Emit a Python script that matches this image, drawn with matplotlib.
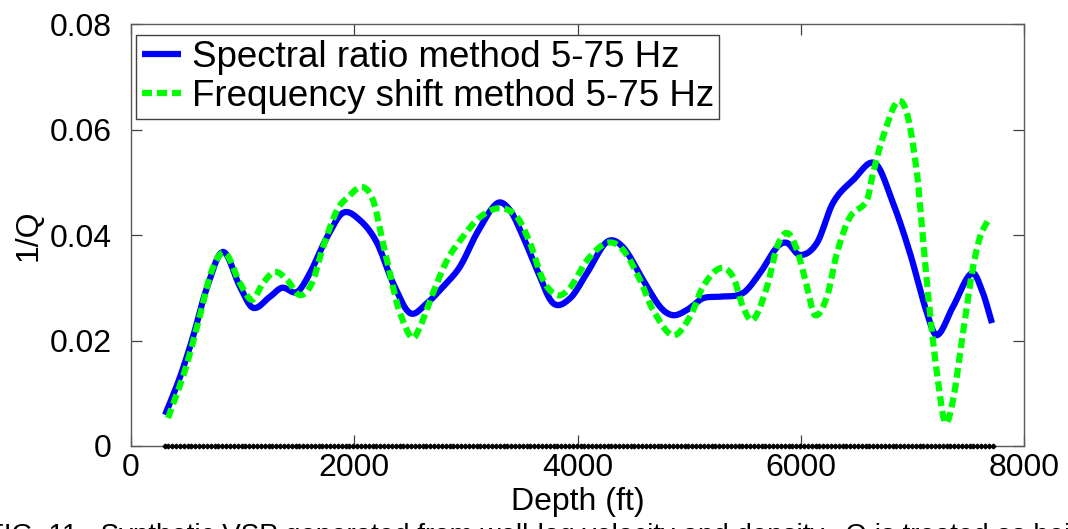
import matplotlib
matplotlib.use("Agg")
import matplotlib.pyplot as plt
import numpy as np

plt.rcParams['font.family'] = ['Liberation Sans', 'DejaVu Sans']

# ================= DATA =================
# Spectral ratio method (blue, solid)
sr_depth = [305, 439, 555, 681, 824, 976, 1093, 1245, 1353, 1487, 1603, 1756,
            1899, 2051, 2204, 2347, 2499, 2652, 2795, 2947, 3100, 3279, 3395,
            3512, 3637, 3780, 3933, 4085, 4264, 4407, 4587, 4739, 4855, 4981,
            5124, 5276, 5482, 5635, 5787, 5877, 5993, 6145, 6289, 6468, 6665,
            6826, 6978, 7131, 7220, 7364, 7534, 7632, 7713]
sr_q = [0.0059, 0.0131, 0.0207, 0.0301, 0.0368, 0.0302, 0.0262, 0.0283, 0.0300,
        0.0292, 0.0328, 0.0396, 0.0442, 0.0428, 0.0385, 0.0309, 0.0252, 0.0271,
        0.0302, 0.0340, 0.0404, 0.0460, 0.0447, 0.0397, 0.0334, 0.0271, 0.0280,
        0.0328, 0.0387, 0.0377, 0.0315, 0.0264, 0.0248, 0.0258, 0.0280, 0.0283,
        0.0290, 0.0328, 0.0377, 0.0385, 0.0362, 0.0385, 0.0461, 0.0504, 0.0536,
        0.0461, 0.0366, 0.0252, 0.0210, 0.0264, 0.0328, 0.0290, 0.0233]

# Frequency shift method (green, dashed)
fs_depth = [331, 484, 600, 726, 842, 976, 1084, 1182, 1290, 1397, 1514, 1621,
            1720, 1845, 1935, 2069, 2168, 2257, 2347, 2410, 2517, 2589, 2705,
            2831, 2974, 3127, 3306, 3458, 3574, 3691, 3816, 3933, 4085, 4264,
            4407, 4560, 4676, 4855, 5008, 5124, 5276, 5393, 5482, 5572, 5698,
            5787, 5877, 5966, 6056, 6127, 6235, 6324, 6441, 6593, 6647, 6737,
            6862, 6951, 7041, 7095, 7158, 7220, 7292, 7364, 7453, 7534, 7606,
            7695]
fs_q = [0.0053, 0.0144, 0.0233, 0.0334, 0.0366, 0.0309, 0.0277, 0.0309, 0.0330,
        0.0315, 0.0286, 0.0309, 0.0377, 0.0447, 0.0470, 0.0491, 0.0466, 0.0385,
        0.0301, 0.0252, 0.0205, 0.0226, 0.0290, 0.0352, 0.0397, 0.0434, 0.0451,
        0.0434, 0.0385, 0.0315, 0.0286, 0.0300, 0.0352, 0.0385, 0.0372, 0.0315,
        0.0258, 0.0210, 0.0245, 0.0302, 0.0337, 0.0321, 0.0264, 0.0239, 0.0302,
        0.0377, 0.0404, 0.0372, 0.0302, 0.0248, 0.0283, 0.0366, 0.0434, 0.0466,
        0.0517, 0.0586, 0.0652, 0.0631, 0.0517, 0.0391, 0.0252, 0.0138, 0.0045,
        0.0087, 0.0214, 0.0328, 0.0396, 0.0434]

# receiver depths shown as black dots on the zero line
rcv_first, rcv_last, rcv_count = 300, 7720, 216

labels = ["Spectral ratio method 5-75 Hz", "Frequency shift method 5-75 Hz"]
caption = ("FIG. 11.  Synthetic VSP generated from well-log velocity and density."
           "  Q is treated as being constant with depth")

# ================= PLOT =================
fig = plt.figure(figsize=(10.68, 5.29), dpi=100)
ax = fig.add_axes([0.1227, 0.1569, 0.8361, 0.7977])

def smooth(xs, ys, n=600):
    xs = np.asarray(xs, float)
    ys = np.asarray(ys, float)
    t = np.linspace(xs[0], xs[-1], n)
    # cubic Hermite through the read points
    out = np.empty_like(t)
    for k, tv in enumerate(t):
        i = min(np.searchsorted(xs, tv, side="right") - 1, len(xs) - 2)
        i = max(i, 0)
        x0, x1 = xs[i], xs[i + 1]
        y0, y1 = ys[i], ys[i + 1]
        m0 = (ys[i + 1] - ys[i - 1]) / (xs[i + 1] - xs[i - 1]) if i > 0 else (y1 - y0) / (x1 - x0)
        m1 = (ys[i + 2] - ys[i]) / (xs[i + 2] - xs[i]) if i + 2 < len(xs) else (y1 - y0) / (x1 - x0)
        h = x1 - x0
        s = (tv - x0) / h
        h00 = 2 * s**3 - 3 * s**2 + 1
        h10 = s**3 - 2 * s**2 + s
        h01 = -2 * s**3 + 3 * s**2
        h11 = s**3 - s**2
        out[k] = h00 * y0 + h10 * h * m0 + h01 * y1 + h11 * h * m1
    return t, out

xb, yb = smooth(sr_depth, sr_q)
xg, yg = smooth(fs_depth, fs_q)

ax.plot(xb, yb, color="#0000ff", lw=4.5, solid_capstyle="butt", label=labels[0], zorder=3)
ax.plot(xg, yg, color="#00ff00", lw=4.5, ls=(0, (1.6, 0.8)), label=labels[1], zorder=4)

rcv = np.linspace(rcv_first, rcv_last, rcv_count)
ax.plot(rcv, np.zeros_like(rcv), color="black", lw=0.8, marker="D", ms=2.4, zorder=5,
        clip_on=False)

ax.set_xlim(0, 8000)
ax.set_ylim(0, 0.08)
ax.set_xticks([0, 2000, 4000, 6000, 8000])
ax.set_yticks([0, 0.02, 0.04, 0.06, 0.08])
ax.set_yticklabels(["0", "0.02", "0.04", "0.06", "0.08"])

for sp in ax.spines.values():
    sp.set_color("#5a5a5a")
    sp.set_linewidth(1.0)
ax.tick_params(direction="in", length=8, width=0.9, color="#404040",
               top=True, right=True, labelsize=23)
ax.tick_params(axis="y", pad=14)
ax.tick_params(axis="x", pad=5)

ax.set_xlabel("Depth (ft)", fontsize=23, labelpad=3)
ax.set_ylabel("1/Q", fontsize=23, labelpad=4)

leg = ax.legend(loc="upper left", bbox_to_anchor=(0.006, 0.975), fontsize=26.5,
                frameon=True, fancybox=False, framealpha=1, edgecolor="#404040",
                handlelength=1.05, handletextpad=0.3, borderpad=0.15,
                labelspacing=0.1, borderaxespad=0)
leg.get_frame().set_linewidth(1.0)

fig.text(-0.012, -0.014, caption, fontsize=20, ha="left", va="center")

fig.savefig("out.png", dpi=100)
